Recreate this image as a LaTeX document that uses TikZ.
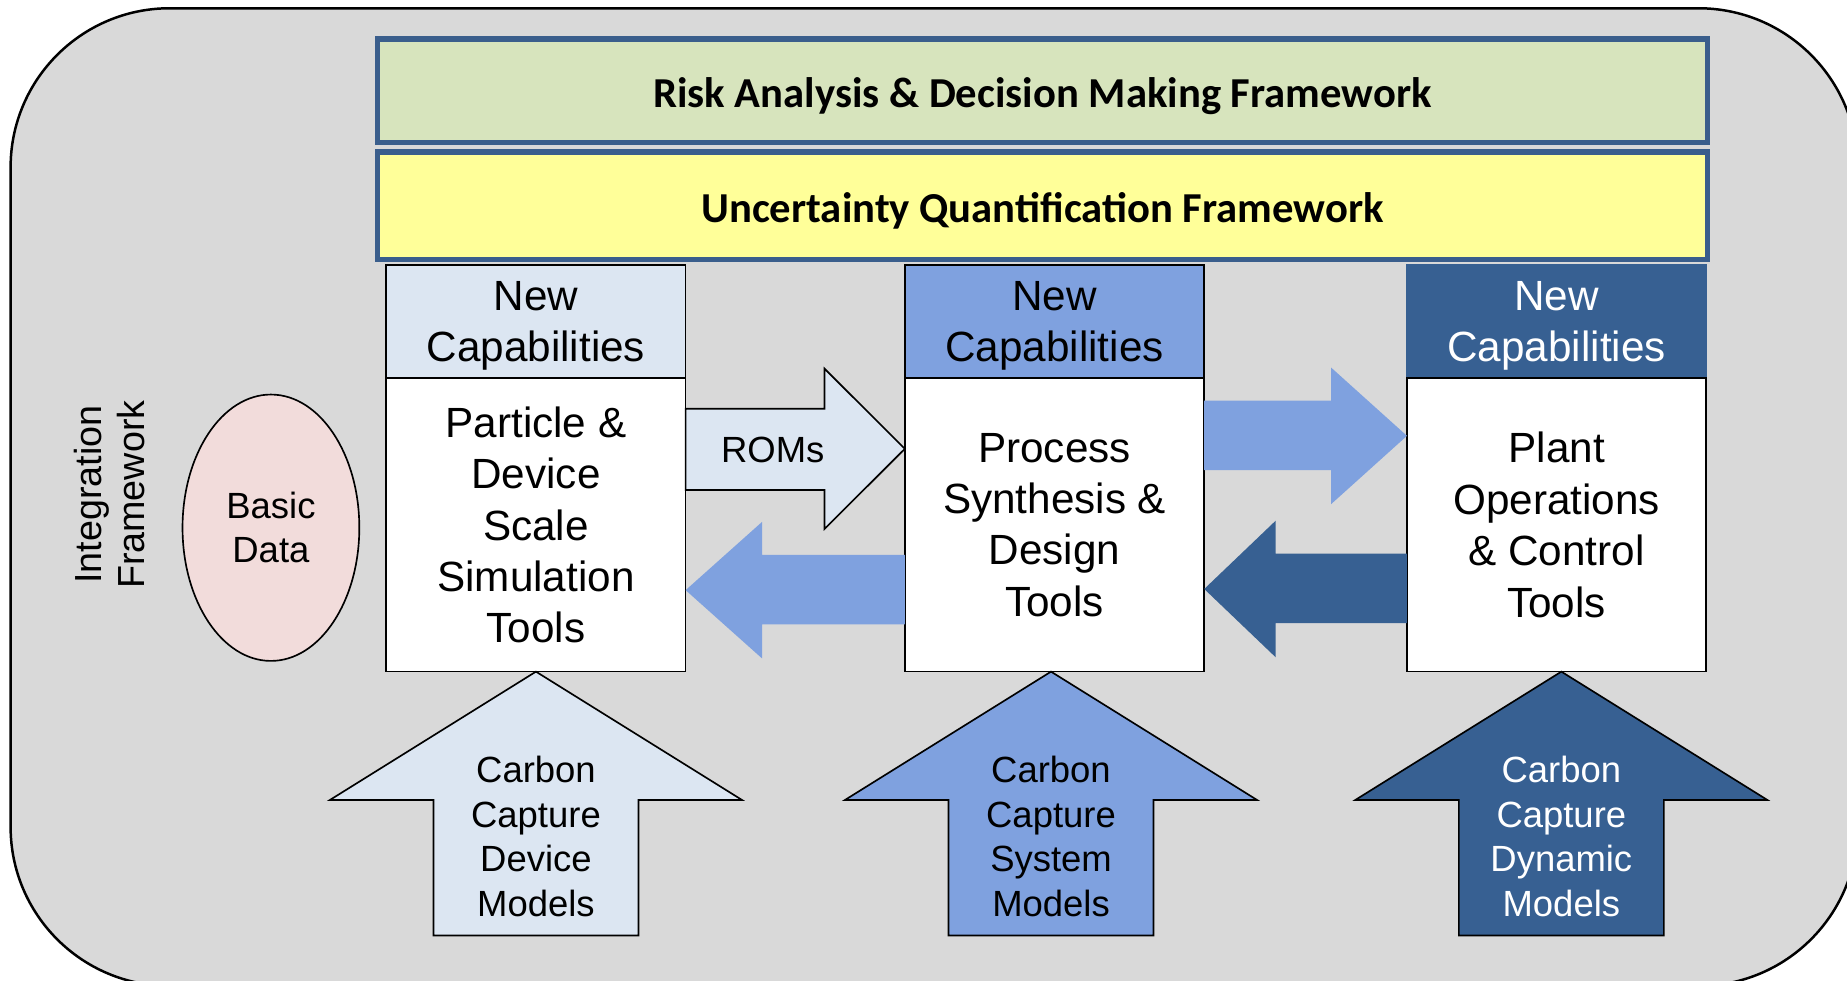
\documentclass[tikz,border=0pt]{standalone}
\usepackage{fontspec}
\setmainfont{Liberation Sans}
\newfontfamily\barfont{Carlito}
\usetikzlibrary{positioning,shapes.geometric,calc}

\definecolor{panelgray}{HTML}{D9D9D9}
\definecolor{paleblue}{HTML}{DCE6F2}
\definecolor{midblue}{HTML}{7FA1DF}
\definecolor{darkblue}{HTML}{376092}
\definecolor{riskgreen}{HTML}{D7E4BD}
\definecolor{uqyellow}{HTML}{FFFF99}
\definecolor{barline}{HTML}{3A5E8C}
\definecolor{datapink}{HTML}{F2DCDB}

% block arrow pointing up into a tool box
\newcommand{\modelarrow}[5]{%
  \draw[#1] (#2) -- ++(175,109) -- ++(-88,0) -- ++(0,115) -- ++(-174,0)
    -- ++(0,-115) -- ++(-88,0) -- cycle;
  \node[modeltext,#5] (#3) at ($(#2)+(0,140)$) {#4};}

\begin{document}
\begin{tikzpicture}[x=0.01cm,y=-0.01cm,outer sep=0pt,
    bar/.style={draw=barline,line width=1.3pt,minimum width=11.28cm,
      text height=0.29cm,text depth=0pt,
      font=\barfont\bfseries\fontsize{10.3}{12}\selectfont},
    capbox/.style={draw,minimum width=2.54cm,minimum height=0.96cm,align=center,
      text depth=0pt,font=\fontsize{10.2}{12.4}\selectfont},
    toolbox/.style={draw,fill=white,minimum width=2.54cm,minimum height=2.49cm,
      align=center,font=\fontsize{10.2}{12.4}\selectfont},
    modeltext/.style={align=center,font=\fontsize{8.8}{10.8}\selectfont}]
  \useasboundingbox (0,0) rectangle (1568,832);
  \draw[fill=panelgray,rounded corners=1.35cm,line width=0.6pt] (9,7) rectangle (1577,837);

  \node[bar,fill=riskgreen,minimum height=0.88cm] (risk) at (885,77)
    {Risk Analysis \& Decision Making Framework};
  \node[bar,fill=uqyellow,minimum height=0.91cm] (uq) at (885,174.5)
    {Uncertainty Quantification Framework};

  \node[capbox,fill=paleblue]                   (cap1) at (455,273) {New\\Capabilities};
  \node[capbox,fill=midblue,right=1.86cm of cap1] (cap2) {New\\Capabilities};
  \node[capbox,fill=darkblue,draw=darkblue,text=white,right=1.72cm of cap2] (cap3) {New\\Capabilities};

  \node[toolbox,below=0pt of cap1] (tool1) {Particle \&\\Device\\Scale\\Simulation\\Tools};
  \node[toolbox,below=0pt of cap2] (tool2) {Process\\Synthesis \&\\Design\\Tools};
  \node[toolbox,below=0pt of cap3] (tool3) {Plant\\Operations\\\& Control\\Tools};

  \node[ellipse,draw,fill=datapink,minimum width=1.5cm,minimum height=2.26cm,
    inner sep=0pt,align=center,font=\fontsize{8.8}{10.6}\selectfont] (data) at (230,448) {Basic\\Data};
  \node[rotate=90,align=center,font=\fontsize{9.1}{10.2}\selectfont] (integ) at (93,420)
    {Integration\\Framework};

  % flows between the tool boxes
  \draw[fill=paleblue] (tool1.east |- 0,347) -- (700,347) -- (700,313) -- (tool2.west |- 0,381)
    -- (700,449) -- (700,416) -- (tool1.east |- 0,416) -- cycle;
  \node[modeltext] (roms) at (656,382) {ROMs};
  \fill[midblue] (tool2.east |- 0,340) -- (1130,340) -- (1130,312) -- (tool3.west |- 0,370)
    -- (1130,428) -- (1130,399) -- (tool2.east |- 0,399) -- cycle;
  \fill[darkblue] (tool3.west |- 0,470) -- (1083,470) -- (1083,442) -- (tool2.east |- 0,500)
    -- (1083,558) -- (1083,529) -- (tool3.west |- 0,529) -- cycle;
  \fill[midblue] (tool2.west |- 0,471) -- (647,471) -- (647,443) -- (tool1.east |- 0,501)
    -- (647,559) -- (647,530) -- (tool2.west |- 0,530) -- cycle;

  % model inputs
  \coordinate (tip1) at (tool1.south);
  \coordinate (tip2) at ($(tool2.south)+(-3,0)$);
  \coordinate (tip3) at ($(tool3.south)+(4,0)$);
  \modelarrow{fill=paleblue}{tip1}{dev}{Carbon\\Capture\\Device\\Models}{}
  \modelarrow{fill=midblue}{tip2}{sys}{Carbon\\Capture\\System\\Models}{}
  \modelarrow{fill=darkblue}{tip3}{dyn}{Carbon\\Capture\\Dynamic\\Models}{text=white}
\end{tikzpicture}
\end{document}
